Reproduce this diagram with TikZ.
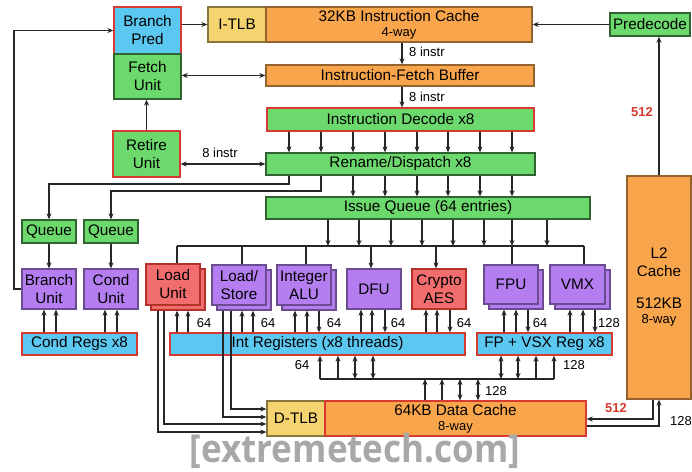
\documentclass[tikz,border=0pt]{standalone}
\usepackage{fontspec}
\usepackage{graphicx}
\setmainfont{Liberation Sans}
\newfontfamily\wmfont{Open Sans}
\usetikzlibrary{arrows.meta}
\definecolor{cgreen}{HTML}{6CD96C}
\definecolor{cblue}{HTML}{5BC8F2}
\definecolor{corange}{HTML}{F9A54B}
\definecolor{cyellow}{HTML}{F5D46F}
\definecolor{cpurple}{HTML}{B47EF0}
\definecolor{csalmon}{HTML}{F26D6D}
\definecolor{cred}{HTML}{D63A30}
\definecolor{cwm}{HTML}{A8A8A8}
\begin{document}
\begin{tikzpicture}[x=1pt,y=-1pt,
  base/.style={line width=1.3pt, inner sep=0pt, align=center, font=\fontsize{15.3}{18}\selectfont},
  sz/.style 2 args={minimum width=#1pt, minimum height=#2pt},
  gbox/.style={base, fill=cgreen, draw=cgreen!45!black},
  bbox/.style={base, fill=cblue, draw=cred},
  obox/.style={base, fill=corange, draw=corange!60!black},
  ybox/.style={base, fill=cyellow, draw=cyellow!55!black},
  pbox/.style={base, fill=cpurple, draw=cpurple!60!black},
  sbox/.style={base, fill=csalmon, draw=cred!85!black},
  redge/.style={draw=cred},
  lbl/.style={font=\fontsize{13}{14}\selectfont, inner sep=0pt},
  rlbl/.style={font=\fontsize{13}{14}\selectfont\bfseries, text=cred, inner sep=0pt},
  con/.style={line width=1.6pt, draw=black!85},
  arr/.style={con, -{Stealth[length=6pt,width=5pt]}},
  darr/.style={con, {Stealth[length=6pt,width=5pt]}-{Stealth[length=6pt,width=5pt]}}
]
\fill[white] (0,0) rectangle (692,471);
\useasboundingbox (0,0) rectangle (692,471);

% front end
\node[bbox, sz={67}{47}] (bp) at (147.5,30.5) {Branch\\Pred};
\node[gbox, sz={67}{45}] (fu) at (147.5,76.5) {Fetch\\Unit};
\node[gbox, redge, sz={67}{46}] (ru) at (146.5,154) {Retire\\Unit};
\node[ybox, sz={58}{35}] (itlb) at (237,24.5) {I-TLB};
\node[obox, sz={266}{35}] (ic) at (399,24.5) {32KB Instruction Cache\\[-3pt]{\fontsize{13}{14}\selectfont 4-way}};
\node[gbox, sz={80}{23}] (pre) at (650,24.5) {Predecode};
\node[obox, sz={268}{21}] (ifb) at (400,75.5) {Instruction-Fetch Buffer};
\node[gbox, redge, sz={267}{23}] (dec) at (400.5,119.5) {Instruction Decode x8};
\node[gbox, sz={269}{22}] (ren) at (400.5,164) {Rename/Dispatch x8};
\node[gbox, sz={324}{22}] (iq) at (428,208) {Issue Queue (64 entries)};
\node[obox, sz={64}{223}] (l2) at (659,287.5) {L2\\Cache\\[14pt]512KB\\[-3pt]{\fontsize{13}{14}\selectfont 8-way}};

% branch side
\node[gbox, sz={54}{23}] (q1) at (49,231.5) {Queue};
\node[gbox, sz={54}{23}] (q2) at (111,231.5) {Queue};
\node[pbox, sz={54}{40}] (bu) at (49,289) {Branch\\Unit};
\node[pbox, sz={54}{40}] (cu) at (111,289) {Cond\\Unit};
\node[bbox, sz={115}{22}] (cr) at (79.5,344) {Cond Regs x8};

% execution units
\node[sbox, sz={54}{41}] (lu2) at (178,289.5) {};
\node[sbox, sz={54}{41}] (lu) at (173,284.5) {Load\\Unit};
\node[pbox, sz={54}{40}] (ls2) at (244,290) {};
\node[pbox, sz={54}{40}] (ls) at (239,285) {Load/\\Store};
\node[pbox, sz={54}{40}] (ia2) at (309,290) {};
\node[pbox, sz={54}{40}] (ia) at (304,285) {Integer\\ALU};
\node[pbox, sz={54}{40}] (dfu) at (374,289) {DFU};
\node[sbox, sz={54}{40}] (aes) at (439,289) {Crypto\\AES};
\node[pbox, sz={54}{39}] (fpu2) at (516,289.5) {};
\node[pbox, sz={54}{39}] (fpu) at (511,284.5) {FPU};
\node[pbox, sz={55}{39}] (vmx2) at (582.5,289.5) {};
\node[pbox, sz={55}{39}] (vmx) at (577.5,284.5) {VMX};

\node[bbox, sz={295}{22}] (ir) at (317.5,344) {Int Registers (x8 threads)};
\node[bbox, sz={135}{22}] (fr) at (544.5,344) {FP + VSX Reg x8};

\node[ybox, sz={58}{35}] (dtlb) at (296,418.5) {D-TLB};
\node[obox, redge, sz={261}{35}] (dc) at (455.5,418.5) {64KB Data Cache\\[-3pt]{\fontsize{13}{14}\selectfont 8-way}};

% front-end connectors
\draw[arr] (itlb.west -| bp.east) -- (itlb.west);
\draw[arr] (pre.west) -- (pre.west -| ic.east);
\draw[arr] (l2.north) -- (l2.north |- pre.south);
\node[rlbl] at (642,112) {512};
\draw[arr] (402,0 |- ic.south) -- (402,0 |- ifb.north);
\node[lbl, anchor=west] at (409,52) {8 instr};
\draw[arr] (402,0 |- ifb.south) -- (402,0 |- dec.north);
\node[lbl, anchor=west] at (409,97) {8 instr};
\draw[darr] (ifb.west) -- (ifb.west -| fu.east);
\draw[arr] (ru.north) -- (ru.north |- fu.south);
\draw[darr] (ren.west) -- (ren.west -| ru.east);
\node[lbl] at (220,153) {8 instr};
\foreach \x in {289,321,353,385,417,448,480,512}
  \draw[arr] (\x,0 |- dec.south) -- (\x,0 |- ren.north);
\foreach \x in {353,385,417,448,480,512}
  \draw[arr] (\x,0 |- ren.south) -- (\x,0 |- iq.north);

% rename to queues
\draw[arr] (289,0 |- ren.south) -- (289,184) -| (q1.north);
\draw[arr] (321,0 |- ren.south) -- (321,191) -| (q2.north);
\draw[arr] (q1.south) -- (bu.north);
\draw[arr] (q2.south) -- (cu.north);
\draw[arr] (bu.west) -- (14,0 |- bu.west) |- (bp.west);
\foreach \x in {44,56} \draw[arr] (\x,0 |- cr.north) -- (\x,0 |- bu.south);
\foreach \x in {105,117} \draw[arr] (\x,0 |- cr.north) -- (\x,0 |- cu.south);

% issue bus
\coordinate (busL) at (177,246);
\coordinate (busR) at (584,246);
\foreach \x in {328,359,391,422,453,484,512,547}
  \draw[arr] (\x,0 |- iq.south) -- (\x,0 |- busL);
\draw[con] (busL) -- (busR);
\draw[con] (busL) -- (177,0 |- lu.north);
\draw[con] (242,0 |- busL) -- (242,0 |- ls.north);
\draw[con] (306,0 |- busL) -- (306,0 |- ia.north);
\draw[arr] (371,0 |- busL) -- (371,0 |- dfu.north);
\draw[arr] (436,0 |- busL) -- (436,0 |- aes.north);
\draw[con] (512,0 |- busL) -- (512,0 |- fpu.north);
\draw[con] (busR) -- (584,0 |- vmx.north);

% register file to units
\foreach \x in {177,188} \draw[arr] (\x,0 |- ir.north) -- (\x,0 |- lu2.south);
\foreach \x in {242,253} \draw[arr] (\x,0 |- ir.north) -- (\x,0 |- ls2.south);
\foreach \x in {295,307} \draw[arr] (\x,0 |- ir.north) -- (\x,0 |- ia2.south);
\draw[arr] (319,0 |- ia2.south) -- (319,0 |- ir.north);
\foreach \x in {361,372} \draw[arr] (\x,0 |- ir.north) -- (\x,0 |- dfu.south);
\draw[arr] (385,0 |- dfu.south) -- (385,0 |- ir.north);
\foreach \x in {426,437} \draw[arr] (\x,0 |- ir.north) -- (\x,0 |- aes.south);
\draw[arr] (450,0 |- aes.south) -- (450,0 |- ir.north);
\foreach \x in {504,516} \draw[arr] (\x,0 |- fr.north) -- (\x,0 |- fpu2.south);
\draw[arr] (528,0 |- fpu2.south) -- (528,0 |- fr.north);
\foreach \x in {570,583} \draw[arr] (\x,0 |- fr.north) -- (\x,0 |- vmx2.south);
\draw[arr] (595,0 |- vmx2.south) -- (595,0 |- fr.north);
\node[lbl] at (204,323) {64};
\node[lbl] at (268,323) {64};
\node[lbl] at (334,323) {64};
\node[lbl] at (398,323) {64};
\node[lbl] at (464,323) {64};
\node[lbl] at (540,323) {64};
\node[lbl] at (609,323) {128};

% load paths to D-TLB
\draw[arr] (158,0 |- lu2.south) |- (dtlb.west |- 0,432);
\draw[arr] (164,0 |- lu2.south) |- (dtlb.west |- 0,424);
\draw[arr] (223,0 |- ls2.south) |- (dtlb.west |- 0,417);
\draw[arr] (231,0 |- ls2.south) |- (dtlb.west |- 0,409);

% data bus
\coordinate (dbL) at (320,379);
\coordinate (dbR) at (554,379);
\draw[con] (dbL) -- (dbR);
\draw[arr] (dbL) -- (320,0 |- ir.south);
\draw[arr] (338,0 |- dbL) -- (338,0 |- ir.south);
\draw[darr] (355,0 |- dbL) -- (355,0 |- ir.south);
\draw[darr] (373,0 |- dbL) -- (373,0 |- ir.south);
\draw[darr] (501,0 |- dbL) -- (501,0 |- fr.south);
\draw[darr] (518,0 |- dbL) -- (518,0 |- fr.south);
\draw[arr] (536,0 |- dbL) -- (536,0 |- fr.south);
\draw[arr] (dbR) -- (554,0 |- fr.south);
\node[lbl] at (302,365) {64};
\node[lbl] at (574,365) {128};
\draw[arr] (425,0 |- dc.north) -- (425,0 |- dbL);
\draw[arr] (442,0 |- dc.north) -- (442,0 |- dbL);
\draw[darr] (460,0 |- dc.north) -- (460,0 |- dbL);
\draw[darr] (478,0 |- dc.north) -- (478,0 |- dbL);
\node[lbl] at (496,391) {128};

% L2 <-> data cache
\draw[arr] (653,0 |- l2.south) |- (dc.east |- 0,419);
\draw[arr] (dc.east |- 0,426) -| (659,0 |- l2.south);
\node[rlbl] at (616,408) {512};
\node[lbl] at (681,421) {128};

% watermark
\node[inner sep=0pt, text=cwm] (wm) at (355,451) {\scalebox{1}[1.1]{\fontsize{35}{38}\wmfont\bfseries [extremetech.com]}};
\end{tikzpicture}
\end{document}
